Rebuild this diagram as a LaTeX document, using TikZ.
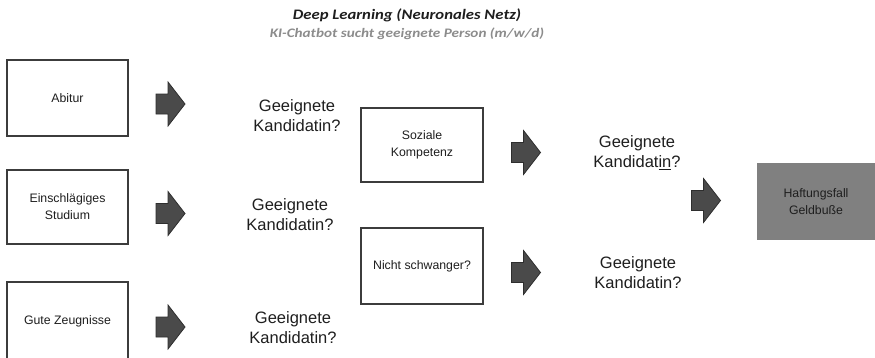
\documentclass[tikz,border=0pt]{standalone}
\usepackage{fontspec}
\setmainfont{Liberation Sans}
\newfontfamily\titlefont{Carlito}
\begin{document}
\begin{tikzpicture}[x=1pt,y=-1pt,
  inbox/.style={draw=boxline,line width=2.4pt,fill=white,inner sep=0pt,align=center,
    font=\fontsize{12.3}{17}\selectfont,text=txt},
  question/.style={align=center,font=\fontsize{16.5}{20}\selectfont,text=txt,inner sep=0pt},
  barrow/.pic={\draw[draw=arrline,fill=arrfill,line width=0.8pt]
    (-14.5,-10) -- (-2.5,-10) -- (-2.5,-22) -- (14.5,0) -- (-2.5,22) -- (-2.5,10) -- (-14.5,10) -- cycle;}
]
\definecolor{boxline}{HTML}{3C3C3C}
\definecolor{txt}{HTML}{1E1E1E}
\definecolor{arrfill}{HTML}{4A4A4A}
\definecolor{arrline}{HTML}{2E2E2E}
\definecolor{subgray}{HTML}{8C8C8C}
\definecolor{resfill}{HTML}{808080}
\useasboundingbox (0,0) rectangle (875,357);
\clip (0,0) rectangle (875,357);
% titles
\node[font=\titlefont\bfseries\itshape\fontsize{14.5}{17}\selectfont,text=txt,inner sep=0pt] (title) at (407,15) {\scalebox{1.15}[1]{Deep Learning (Neuronales Netz)}};
\node[font=\titlefont\bfseries\itshape\fontsize{13}{16}\selectfont,text=subgray,inner sep=0pt] (subtitle) at (407,34) {\scalebox{1.17}[1]{KI-Chatbot sucht geeignete Person (m/w/d)}};
% first column boxes
\node[inbox,minimum width=121pt,minimum height=76pt] (abitur) at (67.5,98) {Abitur};
\node[inbox,minimum width=121pt,minimum height=74pt] (studium) at (67.5,207) {Einschlägiges\\Studium};
\node[inbox,minimum width=121pt,minimum height=78pt] (zeugnis) at (67.5,321) {Gute Zeugnisse};
% first column arrows
\pic (a1) at (170.5,104) {barrow};
\pic (a2) at (170.5,213.5) {barrow};
\pic (a3) at (170.5,327) {barrow};
% questions
\node[question] (q1) at (297,116) {Geeignete\\Kandidatin?};
\node[question] (q2) at (290,215) {Geeignete\\Kandidatin?};
\node[question] (q3) at (293,328) {Geeignete\\Kandidatin?};
% second column boxes
\node[inbox,minimum width=122pt,minimum height=74pt] (sozial) at (422,145) {Soziale\\Kompetenz};
\node[inbox,minimum width=122pt,minimum height=76pt] (schwanger) at (422,266) {Nicht schwanger?};
% second column arrows
\pic (a4) at (526,152.5) {barrow};
\pic (a5) at (526,272.5) {barrow};
% right questions
\node[question] (q4) at (637,153) {Geeignete\\Kandidat\underline{in}?};
\node[question] (q5) at (638,273) {Geeignete\\Kandidatin?};
% final arrow
\pic (a6) at (706,200.5) {barrow};
% result
\node[fill=resfill,inner sep=0pt,minimum width=118pt,minimum height=77pt,
  align=center,font=\fontsize{12.3}{17}\selectfont,text=txt] (haft) at (816,201.5) {Haftungsfall\\Geldbuße};
\end{tikzpicture}
\end{document}
